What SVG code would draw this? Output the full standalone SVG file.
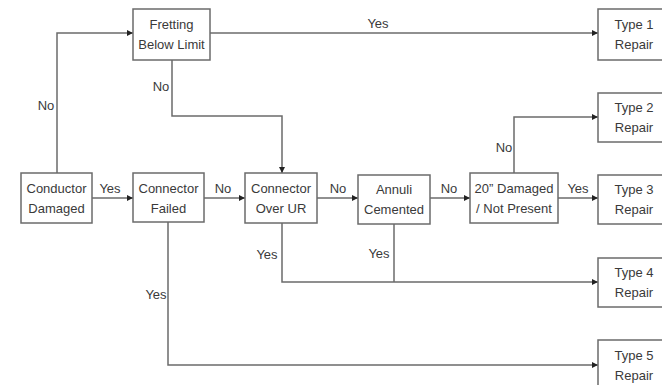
<svg xmlns="http://www.w3.org/2000/svg" width="662" height="385" viewBox="0 0 662 385">
<style>
.box{fill:#fff;stroke:#6b6b6b;stroke-width:1.5}
.t{font-family:"Liberation Sans",Arial,sans-serif;font-size:13px;fill:#3a3a3a;text-anchor:middle}
.c{fill:none;stroke:#6b6b6b;stroke-width:1.5}
</style>
<defs>
<marker id="ah" viewBox="0 0 8 8" refX="8" refY="4" markerWidth="6" markerHeight="6" markerUnits="userSpaceOnUse" orient="auto">
<path d="M0,0 L8,4 L0,8 Z" fill="#222"/>
</marker>
</defs>
<rect width="662" height="385" fill="#fff"/>
<g id="connectors">
<path class="c" d="M57,173 V33 H133" marker-end="url(#ah)"/>
<path class="c" d="M210,33 H598" marker-end="url(#ah)"/>
<path class="c" d="M172,60 V116 H282 V173" marker-end="url(#ah)"/>
<path class="c" d="M92,198 H133" marker-end="url(#ah)"/>
<path class="c" d="M204,198 H245" marker-end="url(#ah)"/>
<path class="c" d="M317,198 H358" marker-end="url(#ah)"/>
<path class="c" d="M430,198 H470" marker-end="url(#ah)"/>
<path class="c" d="M558,198 H598" marker-end="url(#ah)"/>
<path class="c" d="M514,173 V117 H598" marker-end="url(#ah)"/>
<path class="c" d="M282,223 V282 H598" marker-end="url(#ah)"/>
<path class="c" d="M394,224 V282"/>
<path class="c" d="M168,222 V365 H598" marker-end="url(#ah)"/>
<text class="t" x="46" y="109.5">No</text>
<text class="t" x="161" y="90.5">No</text>
<text class="t" x="378" y="27.5">Yes</text>
<text class="t" x="504" y="151.5">No</text>
<text class="t" x="110" y="192.5">Yes</text>
<text class="t" x="223" y="192.5">No</text>
<text class="t" x="338" y="192.5">No</text>
<text class="t" x="449" y="192.5">No</text>
<text class="t" x="578" y="192.5">Yes</text>
<text class="t" x="267" y="258.5">Yes</text>
<text class="t" x="379" y="257.5">Yes</text>
<text class="t" x="156" y="298.5">Yes</text>
</g>
<g id="fretting"><rect class="box" x="133" y="9" width="77" height="51"/><text class="t" x="171.5" y="29">Fretting</text><text class="t" x="171.5" y="49">Below Limit</text></g>
<g id="type1"><rect class="box" x="598" y="9" width="72" height="51"/><text class="t" x="634" y="29">Type 1</text><text class="t" x="634" y="49">Repair</text></g>
<g id="type2"><rect class="box" x="598" y="93" width="72" height="49"/><text class="t" x="634" y="112">Type 2</text><text class="t" x="634" y="132">Repair</text></g>
<g id="conductor"><rect class="box" x="21" y="173" width="71" height="50"/><text class="t" x="56.5" y="192.5">Conductor</text><text class="t" x="56.5" y="212.5">Damaged</text></g>
<g id="failed"><rect class="box" x="133" y="173" width="71" height="49"/><text class="t" x="168.5" y="192.5">Connector</text><text class="t" x="168.5" y="212.5">Failed</text></g>
<g id="overur"><rect class="box" x="245" y="173" width="72" height="50"/><text class="t" x="281" y="192.5">Connector</text><text class="t" x="281" y="212.5">Over UR</text></g>
<g id="annuli"><rect class="box" x="358" y="175" width="72" height="49"/><text class="t" x="394" y="194">Annuli</text><text class="t" x="394" y="214">Cemented</text></g>
<g id="damaged"><rect class="box" x="470" y="173" width="88" height="50"/><text class="t" x="514" y="192.5">20” Damaged</text><text class="t" x="514" y="212.5">/ Not Present</text></g>
<g id="type3"><rect class="box" x="598" y="175" width="72" height="49"/><text class="t" x="634" y="194">Type 3</text><text class="t" x="634" y="214">Repair</text></g>
<g id="type4"><rect class="box" x="598" y="258" width="72" height="49"/><text class="t" x="634" y="277">Type 4</text><text class="t" x="634" y="297">Repair</text></g>
<g id="type5"><rect class="box" x="598" y="340" width="72" height="50"/><text class="t" x="634" y="359.5">Type 5</text><text class="t" x="634" y="379.5">Repair</text></g>
</svg>
